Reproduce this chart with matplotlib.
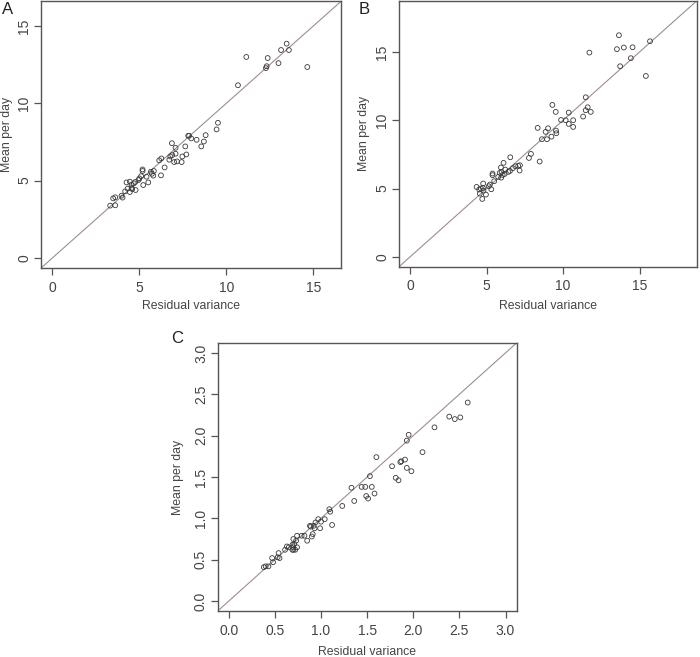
import matplotlib
matplotlib.use("Agg")
import matplotlib.pyplot as plt
import numpy as np

plt.rcParams["font.family"] = ["Liberation Sans", "DejaVu Sans"]

# --- Panel A: residual variance vs mean per day ---
a_var = [11.15, 10.67, 12.38, 12.32, 12.28, 13.0, 13.15, 13.47, 13.6, 14.66,
         9.52, 9.44, 8.81, 8.71, 8.56, 8.29, 7.98, 7.81, 7.86, 7.64,
         7.70, 7.47, 7.43, 7.08, 7.08, 6.87, 6.89, 6.78, 7.0, 7.16,
         6.72, 6.45, 6.26, 6.14, 6.24, 5.83, 5.72, 5.8, 5.66, 5.51,
         5.41, 5.18, 5.18, 5.1, 5.0, 5.22, 4.95, 4.76, 4.68, 4.55,
         4.45, 4.26, 4.59, 4.45, 4.78, 4.32, 4.18, 3.97, 4.03, 3.61,
         3.49, 3.32, 3.61, 4.55]
a_mean = [13.0, 11.17, 12.93, 12.4, 12.28, 12.6, 13.45, 13.86, 13.45, 12.35,
          8.74, 8.31, 7.94, 7.53, 7.21, 7.64, 7.73, 7.9, 7.9, 7.21,
          6.69, 6.56, 6.2, 7.12, 6.74, 7.42, 6.65, 6.56, 6.2, 6.24,
          6.35, 5.85, 6.43, 6.31, 5.34, 5.62, 5.44, 5.32, 5.57, 4.88,
          5.25, 5.72, 5.62, 5.29, 5.14, 4.71, 5.04, 4.91, 4.82, 4.73,
          4.93, 4.88, 4.45, 4.26, 4.39, 4.48, 4.3, 4.02, 3.9, 3.92,
          3.85, 3.38, 3.4, 4.52]

# --- Panel B ---
b_var = [13.65, 13.52, 13.97, 14.54, 14.43, 13.73, 15.68, 15.41, 11.72, 11.48,
         11.61, 11.48, 11.81, 11.31, 10.66, 10.66, 10.37, 10.37, 10.17, 9.87,
         9.3, 9.52, 9.54, 9.56, 9.24, 9.02, 8.86, 8.95, 8.62, 8.34,
         8.47, 7.9, 7.77, 7.18, 7.07, 7.16, 6.88, 6.72, 6.55, 6.53,
         6.42, 6.11, 6.22, 6.18, 6.05, 5.94, 5.98, 5.87, 5.96, 5.76,
         5.39, 5.39, 5.5, 5.22, 5.15, 5.31, 4.78, 4.76, 4.8, 4.63,
         4.52, 4.35, 4.56, 4.96, 4.72]
b_mean = [16.22, 15.2, 15.32, 15.34, 14.54, 13.95, 15.78, 13.24, 14.95, 11.68,
          10.95, 10.73, 10.61, 10.27, 10.0, 9.51, 10.56, 9.73, 10.0, 10.02,
          11.12, 10.61, 9.24, 9.05, 8.8, 9.41, 9.15, 8.61, 8.61, 9.44,
          6.98, 7.54, 7.24, 6.71, 6.66, 6.32, 6.63, 6.49, 7.29, 6.29,
          6.22, 6.88, 6.39, 6.07, 6.0, 6.54, 6.22, 6.15, 5.8, 5.85,
          6.1, 5.98, 5.54, 5.29, 5.17, 4.95, 5.37, 5.05, 4.85, 5.0,
          4.93, 5.12, 4.63, 4.56, 4.24]

# --- Panel C ---
c_var = [2.59, 2.39, 2.45, 2.51, 2.23, 2.1, 1.95, 1.93, 1.91, 1.87,
         1.86, 1.93, 1.98, 1.77, 1.81, 1.84, 1.6, 1.53, 1.55, 1.58,
         1.48, 1.44, 1.49, 1.51, 1.33, 1.36, 1.23, 1.12, 1.09, 1.1,
         1.04, 0.97, 1.0, 0.99, 0.94, 0.93, 0.92, 0.88, 0.89, 0.91,
         0.9, 0.85, 0.82, 0.79, 0.74, 0.73, 0.7, 0.71, 0.74, 0.69,
         0.7, 0.69, 0.7, 0.72, 0.65, 0.63, 0.61, 0.54, 0.53, 0.55,
         0.47, 0.48, 0.43, 0.40, 0.38]
c_mean = [2.4, 2.23, 2.2, 2.22, 2.1, 1.8, 2.01, 1.94, 1.71, 1.69,
          1.68, 1.61, 1.57, 1.63, 1.49, 1.46, 1.74, 1.51, 1.38, 1.3,
          1.38, 1.38, 1.27, 1.24, 1.37, 1.21, 1.15, 0.92, 1.11, 1.08,
          0.99, 0.99, 0.96, 0.88, 0.95, 0.88, 0.91, 0.91, 0.9, 0.81,
          0.78, 0.73, 0.79, 0.79, 0.79, 0.73, 0.75, 0.69, 0.65, 0.68,
          0.65, 0.62, 0.62, 0.62, 0.65, 0.66, 0.62, 0.58, 0.53, 0.52,
          0.52, 0.47, 0.42, 0.42, 0.41]

AXIS_COLOR = "#555555"
TEXT_COLOR = "#444444"
LINE_COLOR = "#a08c90"
POINT_COLOR = "#3a3a3a"


def draw_panel(ax, x, y, lim, ticks, ticklabels, xlab_y, ylab_x):
    ax.plot(lim, lim, color=LINE_COLOR, lw=0.8, zorder=1)
    ax.scatter(x, y, s=12, facecolors="none", edgecolors=POINT_COLOR,
               linewidths=0.6, zorder=2)
    ax.set_xlim(lim)
    ax.set_ylim(lim)
    ax.set_xticks(ticks)
    ax.set_yticks(ticks)
    ax.set_xticklabels(ticklabels)
    ax.set_yticklabels(ticklabels, rotation=90, va="center")
    for sp in ax.spines.values():
        sp.set_color(AXIS_COLOR)
        sp.set_linewidth(1.0)
    ax.tick_params(axis="both", colors=AXIS_COLOR, labelcolor=TEXT_COLOR,
                   labelsize=10, length=5, width=0.9)
    ax.tick_params(axis="x", pad=4)
    ax.tick_params(axis="y", pad=2)
    ax.set_xlabel("Residual variance", fontsize=8.8, color=TEXT_COLOR)
    ax.set_ylabel("Mean per day", fontsize=8.8, color=TEXT_COLOR)
    ax.xaxis.set_label_coords(0.5, xlab_y)
    ax.xaxis.label.set_verticalalignment("center")
    ax.yaxis.set_label_coords(ylab_x, 0.5)
    ax.yaxis.label.set_verticalalignment("center")


fig = plt.figure(figsize=(7.0, 6.57), dpi=100)
ax_a = fig.add_axes([0.0586, 0.592, 0.4286, 0.406])
ax_b = fig.add_axes([0.570, 0.594, 0.4257, 0.405])
ax_c = fig.add_axes([0.311, 0.070, 0.427, 0.408])

draw_panel(ax_a, a_var, a_mean, (-0.66, 16.6), [0, 5, 10, 15],
           ["0", "5", "10", "15"], -0.141, -0.113)
draw_panel(ax_b, b_var, b_mean, (-0.72, 18.75), [0, 5, 10, 15],
           ["0", "5", "10", "15"], -0.147, -0.117)
draw_panel(ax_c, c_var, c_mean, (-0.12, 3.12), np.arange(0, 3.01, 0.5),
           ["0.0", "0.5", "1.0", "1.5", "2.0", "2.5", "3.0"], -0.153, -0.133)

# panel letters (pixel positions converted to figure fraction)
for letter, px, py in [("A", 7.7, 10), ("B", 364.2, 9.2), ("C", 177.5, 338.3)]:
    fig.text(px / 700, 1 - py / 657, letter, fontsize=12, color="#222222",
             ha="center", va="center")

fig.savefig("out.png", dpi=100)
